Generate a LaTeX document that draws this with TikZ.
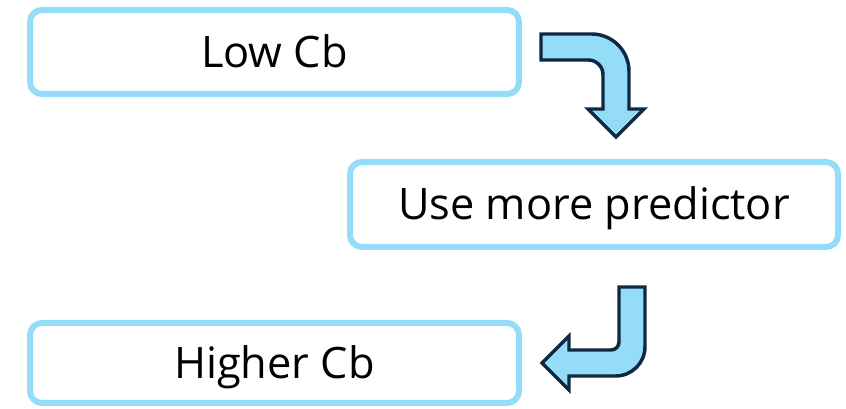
\documentclass[tikz,border=0pt]{standalone}
\usepackage{fontspec}
\setmainfont{Open Sans}
\usetikzlibrary{positioning}
\definecolor{boxblue}{RGB}{148,220,248}
\definecolor{arrowblue}{RGB}{148,220,248}
\definecolor{arrownavy}{RGB}{14,40,65}
\tikzset {
  % rounded box holding one step
  step box/.style = {
    draw = boxblue,
    line width = 4.5pt,
    rounded corners = 9pt,
    rectangle,
    inner sep = 0,
    minimum width = 366.75pt,
    font = \fontsize{32.5}{38}\selectfont,
    text height = 23.2pt,
    text depth = 0pt
  },
  % bent block arrow between steps
  bend arrow/.style = {
    draw = arrownavy,
    fill = arrowblue,
    line width = 2.6pt,
    line join = miter
  }
}

\begin{document}
\begin{tikzpicture}[x=0.75pt, y=-0.75pt]
    \useasboundingbox (0,0) rectangle (846,409);

    \node[step box, minimum height=63pt] (low) at (274.5,52) {Low Cb};
    \node[step box, minimum height=63.75pt, minimum width=366pt] (use) at (594,204.5) {Use more predictor};
    \node[step box, minimum height=60pt] (higher) at (274.5,363) {Higher Cb};

    \coordinate (low-use) at (541,34);
    \coordinate (use-higher) at (619,287);

    % right then down
    \draw[bend arrow] (low-use)
      [rounded corners=28pt] -- ++(88,0)
      [sharp corners] -- ++(0,75)
      -- ++(15,0)
      -- ++(-28,28)
      -- ++(-28,-28)
      -- ++(15,0)
      [rounded corners=11pt] -- ++(0,-49)
      [sharp corners] -- ++(-62,0)
      -- cycle;

    % down then left
    \draw[bend arrow] (use-higher)
      -- ++(26,0)
      [rounded corners=22pt] -- ++(0,89)
      [sharp corners] -- ++(-76,0)
      -- ++(0,14)
      -- ++(-27,-27)
      -- ++(27,-27)
      -- ++(0,14)
      [rounded corners=6pt] -- ++(50,0)
      [sharp corners] -- cycle;
\end{tikzpicture}
\end{document}
